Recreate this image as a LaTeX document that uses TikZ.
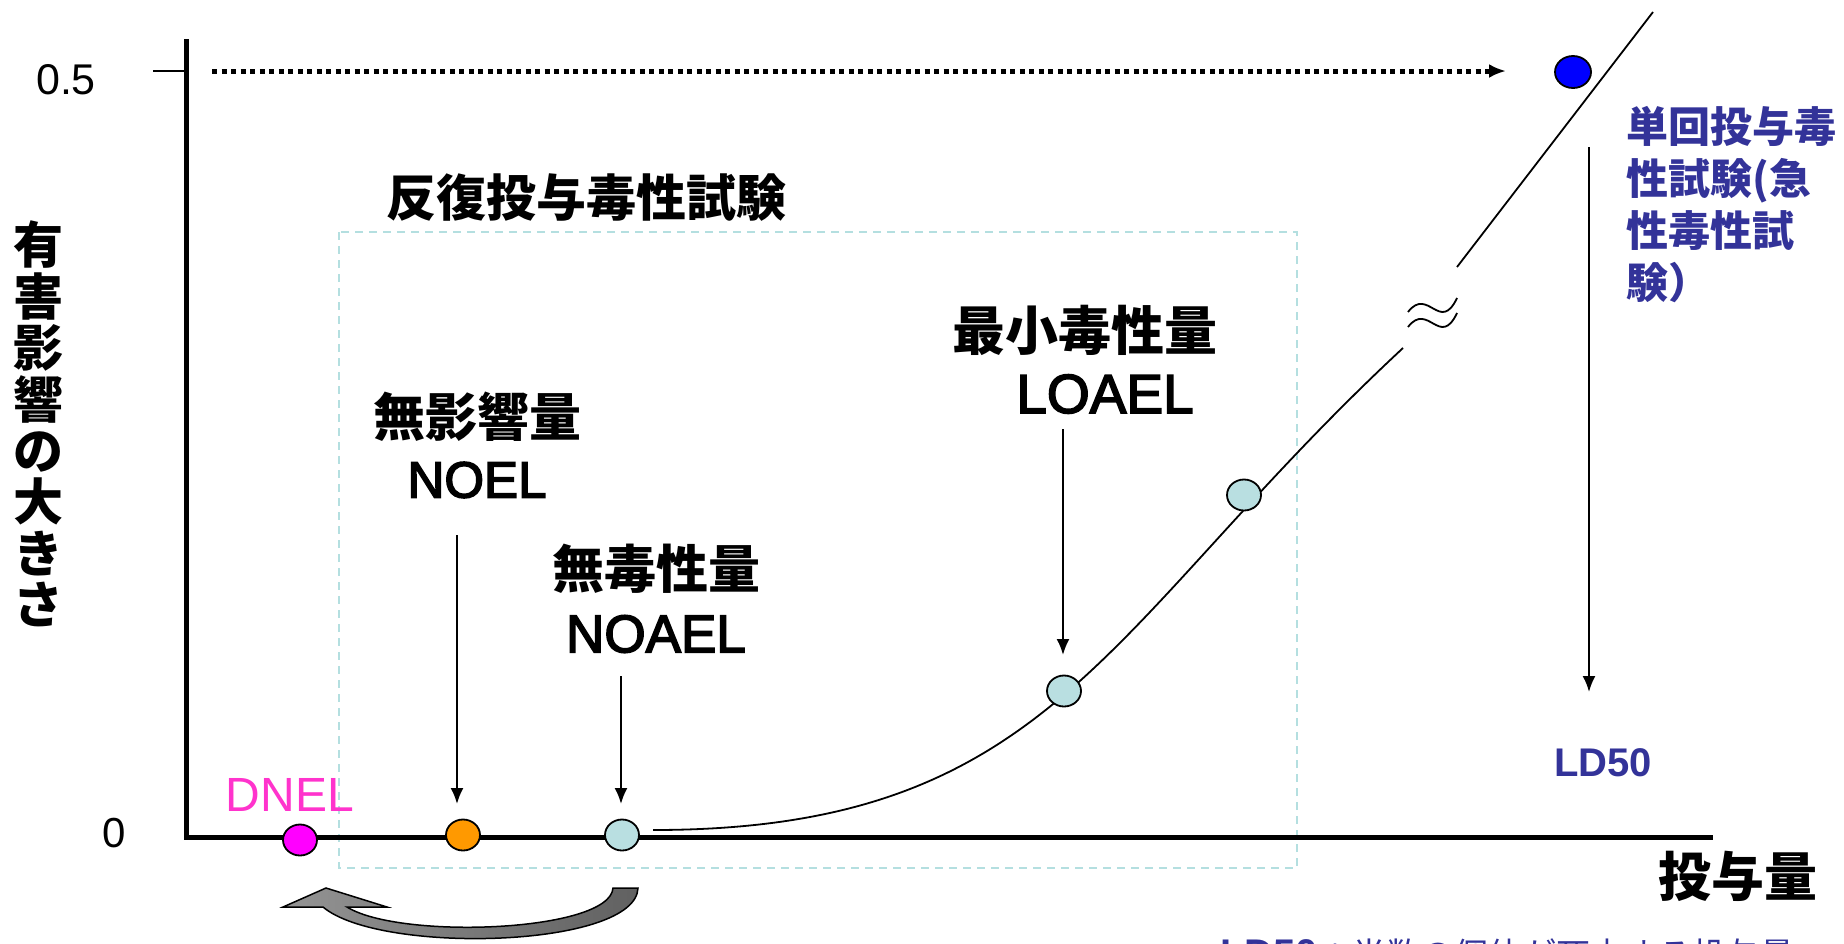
\documentclass[tikz,border=0pt]{standalone}
\usepackage{fontspec}
\setmainfont{Liberation Sans}
\newfontfamily\jp{Noto Sans CJK JP}
\newfontfamily\semib[FakeBold=3]{Liberation Sans}
\usetikzlibrary{arrows.meta,shapes.geometric}
\definecolor{dotblue}{HTML}{B9DFE1}
\definecolor{boxcol}{HTML}{B4DFE0}
\definecolor{ldblue}{HTML}{333399}
\definecolor{dnelpink}{HTML}{FF33CC}
\definecolor{mag}{HTML}{FF00FF}
\definecolor{orng}{HTML}{FF9900}
\definecolor{pblue}{HTML}{0000FF}
\begin{document}
\begin{tikzpicture}[x=1pt,y=-1pt,
  jlab/.style={font=\jp\bfseries\fontsize{52}{58}\selectfont, inner sep=0pt},
  elab/.style={font=\semib\fontsize{51}{56}\selectfont, inner sep=0pt},
  marker/.style={ellipse, draw=black, line width=1.8pt, minimum width=34pt, minimum height=31pt, inner sep=0pt},
  arr/.style={-{Latex[length=16pt,width=13pt]}, line width=2pt},
  axis/.style={line width=5pt}]
\useasboundingbox (0,0) rectangle (1844,943);

% dashed box
\draw[boxcol, line width=1.6pt, dash pattern=on 8pt off 6pt] (339,232) rectangle (1297,868);

% axes
\coordinate (origin) at (186,837);
\coordinate (ytop) at (186,39);
\coordinate (xend) at (1713,837);
\draw[axis] (ytop) -- (origin) -- (xend);
\coordinate (tickL) at (153,71);
\coordinate (tickR) at (186,71);
\draw[line width=1.5pt] (tickL) -- (tickR);

\node[font=\fontsize{43}{48}\selectfont, inner sep=0pt] (yhalf) at (66,80) {0.5};
\node[font=\fontsize{42}{48}\selectfont, inner sep=0pt] (yzero) at (114,833) {0};

\node[font=\jp\bfseries\fontsize{50}{51.4}\selectfont, align=center, inner sep=0pt] (ylab) at (38,424)
  {有\\害\\影\\響\\の\\大\\き\\さ};
\node[font=\jp\bfseries\fontsize{53}{58}\selectfont, inner sep=0pt] (xlab) at (1738,876) {投与量};

% dotted arrow to LD50 point
\coordinate (dotstart) at (212,71);
\coordinate (dotend) at (1506,71);
\draw[line width=5pt, dash pattern=on 5pt off 4.5pt, -{Latex[length=17pt,width=14pt]}] (dotstart) -- (dotend);

% dose-response curve
\coordinate (cstart) at (653,830);
\coordinate (cend) at (1403,348);
\draw[line width=1.8pt] (cstart) .. controls (1053,830) and (1103,627) .. (cend);
\coordinate (upA) at (1457,267);
\coordinate (upB) at (1653,12);
\draw[line width=1.8pt] (upA) -- (upB);
\coordinate (w1a) at (1408,312);
\coordinate (w1b) at (1457,298);
\coordinate (w2a) at (1408,327);
\coordinate (w2b) at (1457,313);
\draw[line width=1.8pt] (w1a) .. controls (1428,286) and (1440,334) .. (w1b);
\draw[line width=1.8pt] (w2a) .. controls (1428,301) and (1440,349) .. (w2b);

% markers
\node[marker, fill=mag] (dnel) at (300,840) {};
\node[marker, fill=orng] (noelpt) at (463,835) {};
\node[marker, fill=dotblue] (noaelpt) at (622,835) {};
\node[marker, fill=dotblue] (loaelpt) at (1064,691) {};
\node[marker, fill=dotblue] (midpt) at (1244,495) {};
\node[marker, fill=pblue, minimum width=36pt, minimum height=32pt] (ldpt) at (1573,72) {};

% labels
\node[font=\jp\bfseries\fontsize{50}{56}\selectfont, inner sep=0pt] (rep) at (586,198) {反復投与毒性試験};
\node[jlab] (noelj) at (477,417) {無影響量};
\node[elab] (noel) at (477,480) {NOEL};
\node[jlab] (noaelj) at (656,569) {無毒性量};
\node[elab, font=\semib\fontsize{53}{58}\selectfont] (noael) at (656,634) {NOAEL};
\node[jlab, font=\jp\bfseries\fontsize{53}{58}\selectfont] (loaelj) at (1085,330) {最小毒性量};
\node[elab, font=\semib\fontsize{55}{60}\selectfont] (loael) at (1105,394) {LOAEL};
\node[font=\fontsize{48}{54}\selectfont, text=dnelpink, inner sep=0pt] (dnellab) at (290,795) {DNEL};
\node[font=\bfseries\fontsize{40}{46}\selectfont, text=ldblue, inner sep=0pt] (ld50) at (1603,763) {LD50};
\node[font=\jp\bfseries\fontsize{42}{52}\selectfont, text=ldblue, align=left, inner sep=0pt, anchor=north west] (single) at (1626,106)
  {単回投与毒\\性試験(急\\性毒性試\\験）};

% arrows
\coordinate (a1) at (457,535);
\coordinate (a1e) at (457,804);
\draw[arr] (a1) -- (a1e);
\coordinate (a2) at (621,676);
\coordinate (a2e) at (621,804);
\draw[arr] (a2) -- (a2e);
\coordinate (a3) at (1063,429);
\coordinate (a3e) at (1063,655);
\draw[arr] (a3) -- (a3e);
\coordinate (a4) at (1589,147);
\coordinate (a4e) at (1589,692);
\draw[arr] (a4) -- (a4e);

% curved block arrow back to DNEL
\draw[line width=1.5pt, left color=black!42, right color=black!62]
  (283,907) -- (326,888) -- (387,907) -- (347,907)
  .. controls (400,940) and (610,932) .. (613,888) -- (638,888)
  .. controls (636,948) and (380,955) .. (323,907) -- cycle;

% cut-off footnote
\node[font=\bfseries\fontsize{40}{46}\selectfont, text=ldblue, inner sep=0pt, anchor=base west] (foot) at (1220,967)
  {LD50\mdseries\fontsize{34}{40}\selectfont\jp ：半数の個体が死亡する投与量};
\end{tikzpicture}
\end{document}
